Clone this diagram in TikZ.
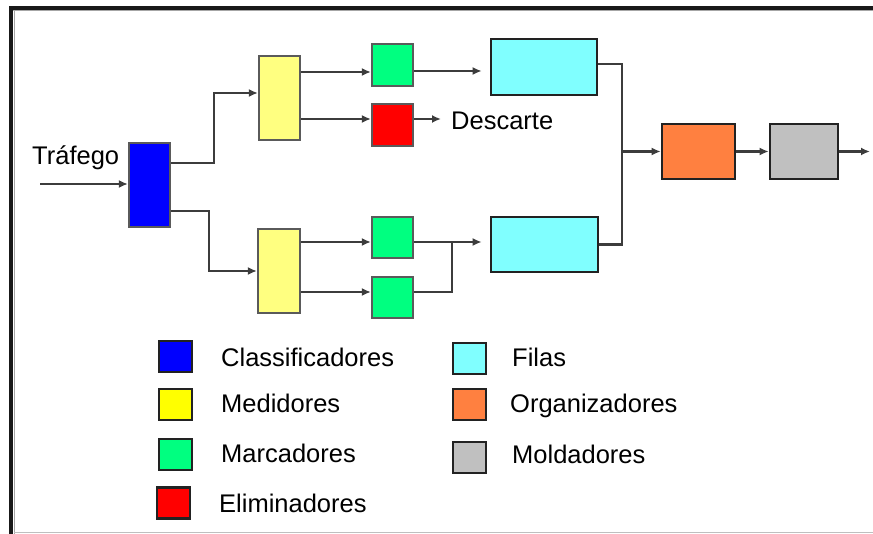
\documentclass[tikz,border=0pt]{standalone}
\usepackage{fontspec}
\setmainfont{Liberation Sans}
\usetikzlibrary{arrows.meta}
\definecolor{cBlue}{HTML}{0000FF}
\definecolor{cPaleYellow}{HTML}{FFFF80}
\definecolor{cYellow}{HTML}{FFFF00}
\definecolor{cGreen}{HTML}{00FF80}
\definecolor{cRed}{HTML}{FF0000}
\definecolor{cCyan}{HTML}{80FFFF}
\definecolor{cOrange}{HTML}{FF8040}
\definecolor{cGray}{HTML}{C0C0C0}
\definecolor{wire}{HTML}{3C3C3C}
\definecolor{softedge}{HTML}{5A5A5A}
\definecolor{darkedge}{HTML}{222222}
\begin{document}
\begin{tikzpicture}[x=1pt,y=-1pt,
  unit/.style={draw=softedge, line width=2.2pt, inner sep=0pt},
  stage/.style={draw=darkedge, line width=2.6pt, inner sep=0pt},
  key/.style={draw=darkedge, line width=2.4pt, inner sep=0pt, minimum width=33pt, minimum height=31pt},
  lbl/.style={font=\fontsize{25.5}{30}\selectfont, inner sep=0pt, anchor=base west},
  wireline/.style={draw=wire, line width=2.4pt},
  arr/.style={wireline, -{Latex[length=9pt,width=8pt]}},
]
\useasboundingbox (0,0) rectangle (873,534);

% frame
\fill[black!90] (9,6) rectangle (873,10);
\fill[black!90] (9,6) rectangle (13,534);
\draw[black!35, line width=1pt] (13,11) -- (873,11);
\draw[black!35, line width=1pt] (14,11) -- (14,534);
\draw[black!25, line width=1.5pt] (14,532.5) -- (873,532.5);

% processing blocks
\node[unit, fill=cBlue, minimum width=41pt, minimum height=84pt] (cls) at (149.5,185) {};
\node[unit, fill=cPaleYellow, minimum width=41pt, minimum height=84pt] (m1) at (279.5,98) {};
\node[unit, fill=cPaleYellow, minimum width=42pt, minimum height=84pt] (m2) at (279,271) {};
\node[unit, fill=cGreen, minimum width=41pt, minimum height=42pt] (k1) at (392.5,65) {};
\node[unit, fill=cRed, minimum width=41pt, minimum height=42pt] (e1) at (392.5,125) {};
\node[unit, fill=cGreen, minimum width=41pt, minimum height=41pt] (k2) at (392.5,237.5) {};
\node[unit, fill=cGreen, minimum width=41pt, minimum height=41pt] (k3) at (392.5,297.5) {};
\node[stage, fill=cCyan, minimum width=106pt, minimum height=56pt] (q1) at (544,67) {};
\node[stage, fill=cCyan, minimum width=107pt, minimum height=55pt] (q2) at (544.5,244.5) {};
\node[stage, fill=cOrange, minimum width=73pt, minimum height=55pt] (org) at (698.5,151.5) {};
\node[stage, fill=cGray, minimum width=68pt, minimum height=55pt] (shp) at (804,151.5) {};

% labels on the flow
\node[lbl] (traf) at (32,165) {Tráfego};
\node[lbl] (desc) at (451,130) {Descarte};

% free ends and junctions
\coordinate (inlet) at (40,184);
\coordinate (dropEnd) at (441,119);
\coordinate (merge) at (452,242);
\coordinate (join) at (622,151.5);
\coordinate (outlet) at (870,151.5);

% connectors
\draw[arr] (inlet) -- ([yshift=1pt]cls.west);
\draw[arr] ([yshift=22pt]cls.east) -- ++(43,0) |- ([yshift=5pt]m1.west);
\draw[arr] ([yshift=-26pt]cls.east) -- ++(38,0) |- (m2.west);
\draw[arr] ([yshift=26pt]m1.east) -- ([yshift=-7pt]k1.west);
\draw[arr] ([yshift=-21pt]m1.east) -- ([yshift=6pt]e1.west);
\draw[arr] ([yshift=6pt]e1.east) -- (dropEnd);
\draw[arr] ([yshift=-6pt]k1.east) -- ([xshift=-8pt,yshift=-4pt]q1.west);
\draw[arr] ([yshift=29pt]m2.east) -- ([yshift=-4.5pt]k2.west);
\draw[arr] ([yshift=-21pt]m2.east) -- ([yshift=5.5pt]k3.west);
\draw[arr] ([yshift=-4.5pt]k2.east) -- ([xshift=-8pt,yshift=2.5pt]q2.west);
\draw[wireline] ([yshift=5.5pt]k3.east) -| (merge);
\draw[wireline] ([yshift=3pt]q1.east) -| (join);
\draw[wireline] (q2.east) -| (join);
\draw[arr] (join) -- (org.west);
\draw[arr] (org.east) -- (shp.west);
\draw[arr] (shp.east) -- (outlet);

% legend
\node[key, fill=cBlue] (kc) at (175.5,356.5) {};
\node[key, fill=cYellow] (km) at (175.5,404.5) {};
\node[key, fill=cGreen] (kk) at (175.5,454.5) {};
\node[key, fill=cRed] (ke) at (173.5,503) {};
\node[key, fill=cCyan] (kq) at (469.5,358.5) {};
\node[key, fill=cOrange] (ko) at (469.5,404.5) {};
\node[key, fill=cGray] (ks) at (469.5,457.5) {};

\node[lbl] (tc) at (221,367) {Classificadores};
\node[lbl] (tm) at (221,413) {Medidores};
\node[lbl] (tk) at (221,463) {Marcadores};
\node[lbl] (te) at (219,512) {Eliminadores};
\node[lbl] (tq) at (512,367) {Filas};
\node[lbl] (to) at (510,413) {Organizadores};
\node[lbl] (ts) at (512,464) {Moldadores};
\end{tikzpicture}
\end{document}
